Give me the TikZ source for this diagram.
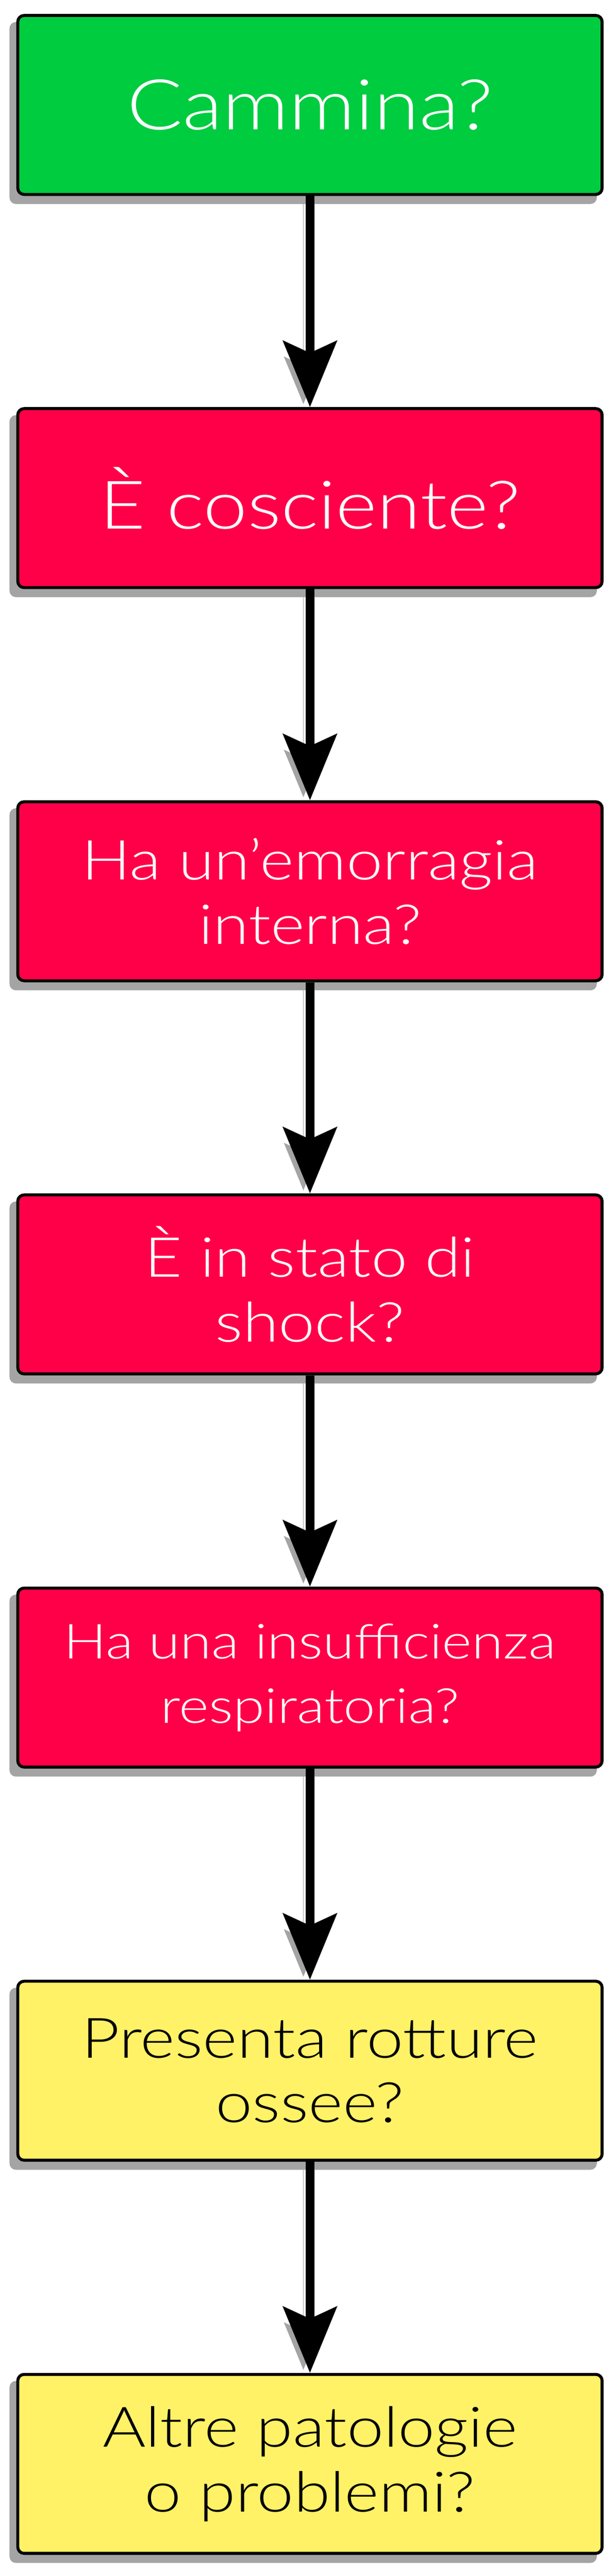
\documentclass[tikz,border=0pt]{standalone}
\usepackage{fontspec}
\setmainfont{Lato}[UprightFont=* Light, FakeStretch=1.18]
\usetikzlibrary{arrows.meta}

\definecolor{verde}{HTML}{00CC40}
\definecolor{rosso}{HTML}{FF0048}
\definecolor{giallo}{HTML}{FFF266}
\definecolor{ombra}{HTML}{A4A4A4}

\pgfdeclarelayer{ombre}
\pgfdeclarelayer{frecce}
\pgfsetlayers{ombre,frecce,main}

\tikzset{
    scatola/.style={draw=black, line width=2pt, rounded corners=0.15cm,
	minimum width=13.8cm, minimum height=4.23cm, inner sep=0pt, align=center},
    freccia/.style={line width=6pt,
	-{Stealth[length=1.56cm, width=1.26cm, inset=0.28cm]},
	preaction={draw=ombra, transform canvas={shift={(-0.155,-0.19)}}}}
}

\begin{document}
\begin{tikzpicture}
    \useasboundingbox (0, 0) rectangle (14.54, -60.87);
    \node[scatola, fill=verde, text=white, font=\fontsize{47}{54}\selectfont]
	(cammina) at (7.32, -2.48) {Cammina?};
    \node[scatola, fill=rosso, text=white, font=\fontsize{45}{52}\selectfont]
	(cosciente) at (7.32, -11.77) {È cosciente?};
    \node[scatola, fill=rosso, text=white, font=\fontsize{37}{43.5}\selectfont]
	(emorragia) at (7.32, -21.06) {Ha un’emorragia\\interna?};
    \node[scatola, fill=rosso, text=white, font=\fontsize{37}{43.5}\selectfont]
	(shock) at (7.32, -30.35) {È in stato di\\shock?};
    \node[scatola, fill=rosso, text=white, font=\fontsize{32.5}{43.5}\selectfont]
	(respiro) at (7.32, -39.64) {Ha una insufficienza\\respiratoria?};
    \node[scatola, fill=giallo, font=\fontsize{37.5}{43.5}\selectfont]
	(rotture) at (7.32, -48.93) {Presenta rotture\\ossee?};
    \node[scatola, fill=giallo, font=\fontsize{37.5}{43.5}\selectfont]
	(altro) at (7.32, -58.22) {Altre patologie\\o problemi?};
    % ombre delle scatole
    \begin{pgfonlayer}{ombre}
	\foreach \n in {cammina, cosciente, emorragia, shock, respiro, rotture, altro}
	    \fill[ombra, rounded corners=0.15cm] ([shift={(-0.16,-0.19)}]\n.south west)
		rectangle ([shift={(-0.16,-0.19)}]\n.north east);
    \end{pgfonlayer}
    % frecce
    \begin{pgfonlayer}{frecce}
	\foreach \a/\b in {cammina/cosciente, cosciente/emorragia, emorragia/shock,
	    shock/respiro, respiro/rotture, rotture/altro}
	    \draw[freccia] (\a.south) -- (\b.north);
    \end{pgfonlayer}
\end{tikzpicture}
\end{document}
